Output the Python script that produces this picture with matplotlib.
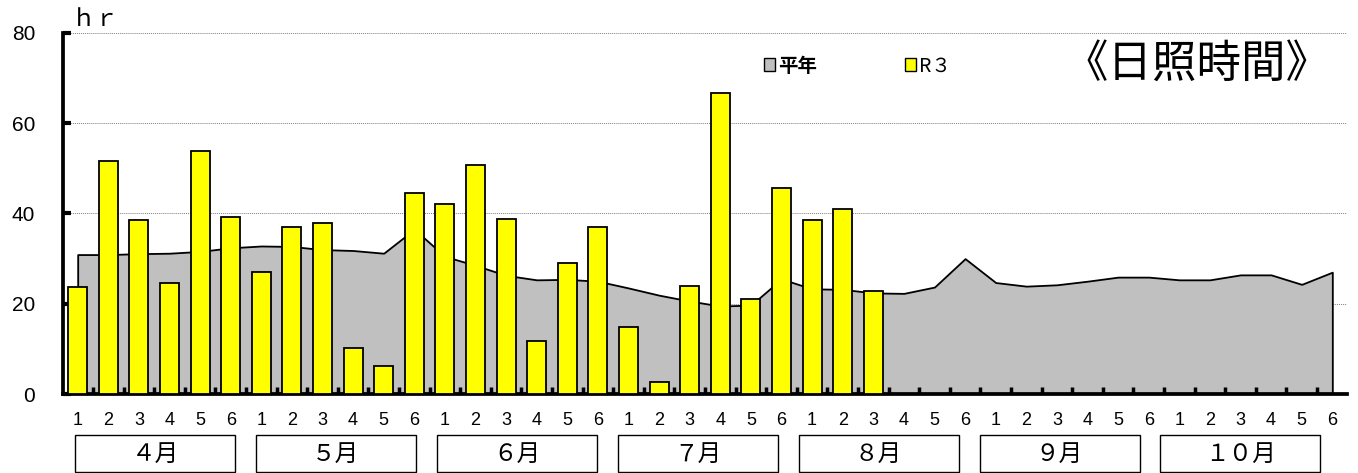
import numpy as np
import matplotlib
matplotlib.use('Agg')
import matplotlib.pyplot as plt
from matplotlib.patches import Rectangle, Patch

plt.rcParams['font.family'] = ['Liberation Sans', 'Noto Sans CJK JP']

# 半旬ごとの日照時間 (hr)
months = ['４月', '５月', '６月', '７月', '８月', '９月', '１０月']
periods = ['1', '2', '3', '4', '5', '6']
normal = [30.9, 30.9, 31.1, 31.2, 31.6, 32.4,
          32.8, 32.7, 32.0, 31.8, 31.2, 36.5,
          30.5, 28.5, 26.3, 25.3, 25.4, 25.0,
          23.5, 21.9, 20.6, 19.5, 19.7, 25.5,
          23.3, 23.2, 22.4, 22.3, 23.7, 30.0,
          24.7, 23.9, 24.2, 25.0, 25.9, 25.9,
          25.3, 25.3, 26.4, 26.4, 24.3, 27.0]
r3 = [23.7, 51.7, 38.5, 24.7, 53.9, 39.2,
      27.0, 37.0, 37.9, 10.2, 6.1, 44.6,
      42.1, 50.8, 38.7, 11.7, 29.1, 36.9,
      14.9, 2.7, 23.9, 66.7, 21.1, 45.7,
      38.5, 41.1, 22.8]

W, H = 1358, 473
fig = plt.figure(figsize=(W / 100, H / 100), dpi=100)
ax = fig.add_axes([63 / W, 1 - 394 / H, (1347 - 63) / W, (394 - 33) / H])
ax.set_axisbelow(False)

x = np.arange(len(normal))
xr = np.arange(len(r3))

for gy in [20, 40, 60, 80]:
    ax.axhline(gy, linestyle=(0, (1, 1)), color='#808080', linewidth=0.7, zorder=0)

ax.fill_between(x, normal, 0, facecolor='#c0c0c0', edgecolor='black',
                linewidth=1.3, zorder=2, label='平年')
ax.bar(xr, r3, width=0.62, color='#ffff00', edgecolor='black',
       linewidth=1.3, zorder=3, label='R３')

ax.set_xlim(-0.48, len(normal) - 0.52)
ax.set_ylim(0, 80)
ax.set_yticks([0, 20, 40, 60, 80])

ax.set_xticks(x)
ax.set_xticklabels(periods * len(months), fontsize=13)
ax.set_xticks(np.arange(0.5, len(normal) - 1, 1), minor=True)
ax.tick_params(axis='x', which='major', length=0, pad=13)
ax.tick_params(axis='x', which='minor', direction='in', length=5, width=2.5)
ax.tick_params(axis='y', direction='in', length=6, width=3, labelsize=15, pad=20)

for s in ['top', 'right']:
    ax.spines[s].set_visible(False)
for s in ['left', 'bottom']:
    ax.spines[s].set_linewidth(2.7)

# 月の枠
for i, m in enumerate(months):
    x0 = 75 + 180.9 * i
    fig.patches.append(Rectangle((x0 / W, 1 - 472 / H), 160 / W, 37 / H,
                                 transform=fig.transFigure, facecolor='white',
                                 edgecolor='black', linewidth=1.0))
    fig.text((x0 + 80) / W, 1 - 454 / H, m, ha='center', va='center',
             fontsize=17, family=['Noto Sans CJK JP'])

fig.text(72 / W, 1 - 19 / H, 'ｈｒ', ha='left', va='center', fontsize=17,
         family=['Noto Sans CJK JP'])
fig.text(1197 / W, 1 - 64 / H, '《日照時間》', ha='center', va='center',
         fontsize=32, family=['Noto Sans CJK JP'])

handles = [Patch(facecolor='#c0c0c0', edgecolor='black', linewidth=1),
           Patch(facecolor='#ffff00', edgecolor='black', linewidth=1)]
leg = fig.legend(handles, ['平年', 'R３'], loc='center left',
                 bbox_to_anchor=(746 / W, 1 - 66 / H), ncol=2, frameon=False,
                 handlelength=0.6, handleheight=0.6, handletextpad=0.15,
                 columnspacing=4.5, prop={'family': 'Noto Sans CJK JP', 'size': 14})
leg.get_texts()[0].set_fontweight('bold')

fig.savefig('out.png', dpi=100)
